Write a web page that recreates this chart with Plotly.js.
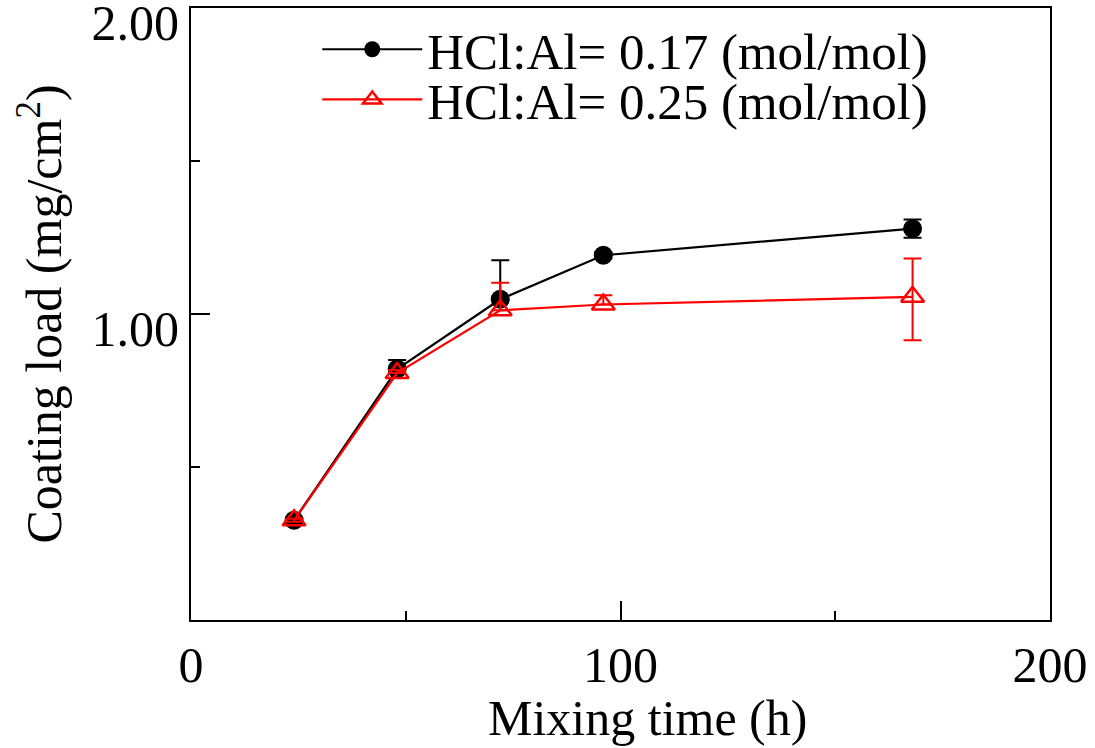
<!DOCTYPE html>
<html>
<head>
<meta charset="utf-8">
<script src="https://cdn.plot.ly/plotly-3.0.1.min.js"></script>
<style>html,body{margin:0;padding:0;background:#fff;}#chart{width:1095px;height:748px;}</style>
</head>
<body>
<div id="chart"></div>
<script>
// Data
const mixingTime = [24, 48, 72, 96, 168];
const load017 = [0.326, 0.820, 1.048, 1.192, 1.279];
const err017Plus = [0.005, 0.03, 0.128, 0.01, 0.03];
const err017Minus = [0.005, 0.0, 0.0, 0.01, 0.03];
const load025 = [0.326, 0.807, 1.012, 1.031, 1.056];
const err025Plus = [0.005, 0.01, 0.09, 0.03, 0.125];
const err025Minus = [0.005, 0.0, 0.0, 0.0, 0.142];
const seriesNames = ['HCl:Al= 0.17 (mol/mol)', 'HCl:Al= 0.25 (mol/mol)'];
const xTickVals = [0, 100, 200];
const xTickText = ['0', '100', '200'];
const yTickVals = [0, 1, 2];
const yTickText = ['', '1.00', '2.00'];
const xTitle = 'Mixing time (h)';
const yTitle = 'Coating load (mg/cm<sup>2</sup>)';

const FONT = 'Liberation Serif, Times New Roman, serif';

const traces = [
  {
    x: mixingTime, y: load017, name: seriesNames[0], type: 'scatter', mode: 'lines+markers',
    line: {color: '#000000', width: 2.2},
    marker: {symbol: 'circle', size: 19, color: '#000000'},
    error_y: {type: 'data', symmetric: false, array: err017Plus, arrayminus: err017Minus,
              visible: true, color: '#000000', thickness: 2, width: 9},
    legend: 'legend'
  },
  {
    x: mixingTime, y: load025, name: seriesNames[1], type: 'scatter', mode: 'lines+markers',
    line: {color: '#ff0000', width: 2.2},
    marker: {symbol: 'triangle-up-open', size: 20, color: '#ff0000', line: {width: 2.5, color: '#ff0000'}},
    error_y: {type: 'data', symmetric: false, array: err025Plus, arrayminus: err025Minus,
              visible: true, color: '#ff0000', thickness: 2, width: 9},
    legend: 'legend2'
  }
];

const legendCommon = {
  font: {family: FONT, size: 51, color: '#000'},
  bgcolor: 'rgba(0,0,0,0)', borderwidth: 0,
  xanchor: 'left', yanchor: 'middle', itemwidth: 100
};

const layout = {
  width: 1095, height: 748,
  margin: {l: 191, r: 45, t: 8, b: 128},
  paper_bgcolor: '#fff', plot_bgcolor: '#fff',
  font: {family: FONT, size: 50, color: '#000'},
  showlegend: true,
  legend: Object.assign({}, legendCommon, {x: 0.147, y: 0.932}),
  legend2: Object.assign({}, legendCommon, {x: 0.147, y: 0.850}),
  xaxis: {
    range: [0, 200], tickvals: xTickVals, ticktext: xTickText,
    ticks: 'inside', ticklen: 19, tickwidth: 2, tickcolor: '#000',
    minor: {dtick: 50, ticks: 'inside', ticklen: 9, tickwidth: 2, tickcolor: '#000'},
    showline: true, linecolor: '#000', linewidth: 2, mirror: true,
    showgrid: false, zeroline: false,
    tickfont: {family: FONT, size: 50, color: '#000'}
  },
  yaxis: {
    range: [0, 2], tickvals: yTickVals, ticktext: yTickText,
    ticks: 'inside', ticklen: 19, tickwidth: 2, tickcolor: '#000',
    minor: {dtick: 0.5, ticks: 'inside', ticklen: 9, tickwidth: 2, tickcolor: '#000'},
    showline: true, linecolor: '#000', linewidth: 2, mirror: true,
    showgrid: false, zeroline: false,
    ticklabelshift: 14, ticklabeloverflow: 'allow',
    tickfont: {family: FONT, size: 50, color: '#000'},
    title: {text: yTitle, font: {family: FONT, size: 50, color: '#000'}, standoff: 14}
  },
  annotations: [
    {text: xTitle, xref: 'paper', yref: 'paper', x: 0.531, y: -0.160,
     xanchor: 'center', yanchor: 'middle', showarrow: false,
     font: {family: FONT, size: 50, color: '#000'}}
  ]
};

Plotly.newPlot('chart', traces, layout, {displayModeBar: false, staticPlot: true});
</script>
</body>
</html>
